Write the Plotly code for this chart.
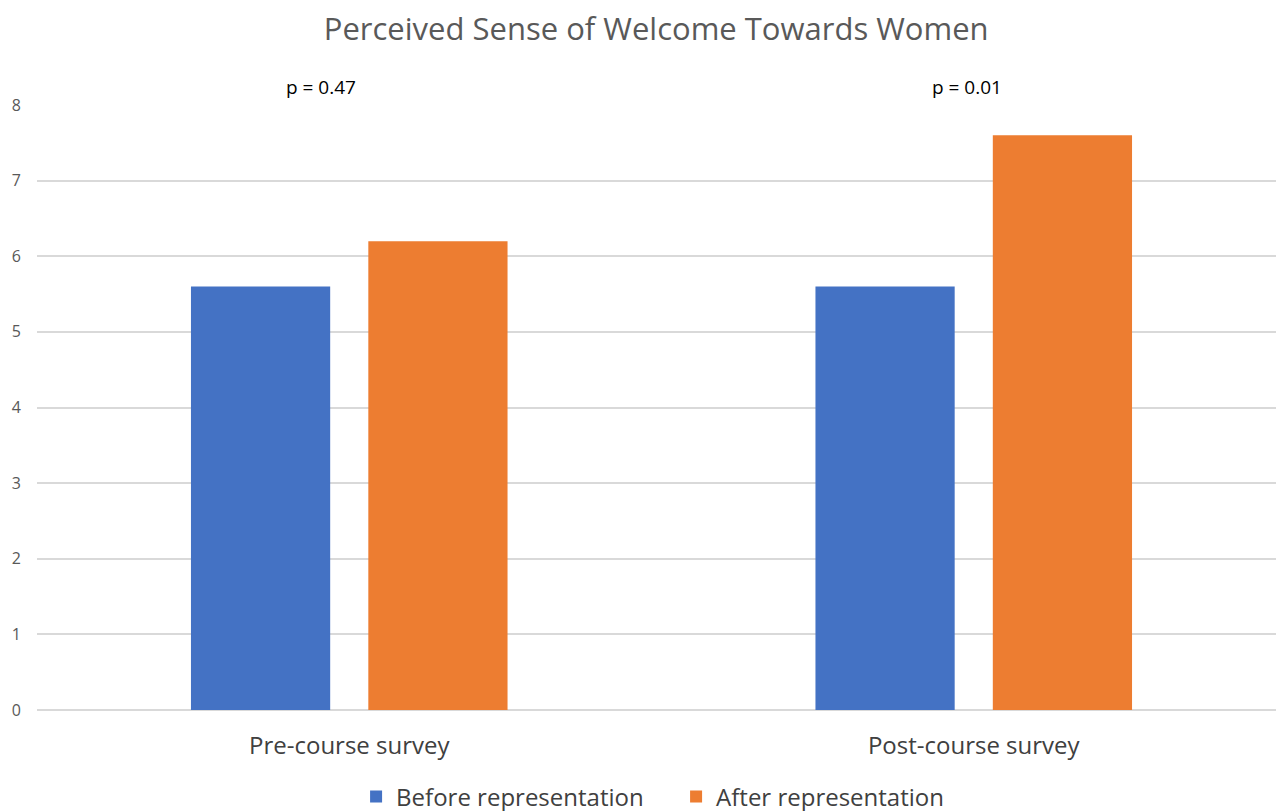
import plotly.graph_objects as go

categories = ["Pre-course survey", "Post-course survey"]
before_vals = [5.6, 5.6]
after_vals = [6.2, 7.6]
p_labels = ["p = 0.47", "p = 0.01"]
y_ticks = [0, 1, 2, 3, 4, 5, 6, 7, 8]

FONT = "Open Sans"
fig = go.Figure()
fig.add_trace(go.Bar(x=categories, y=before_vals, name="Before representation",
                     marker=dict(color="#4472C4", line=dict(width=0))))
fig.add_trace(go.Bar(x=categories, y=after_vals, name="After representation",
                     marker=dict(color="#ED7D31", line=dict(width=0))))

for i, lab in enumerate(p_labels):
    fig.add_annotation(x=categories[i], y=8.0, text=lab, showarrow=False,
                       xshift=[-28, -7][i], yshift=18, yanchor="middle",
                       font=dict(family=FONT, size=19, color="#000000"))

fig.update_layout(
    width=1276, height=811,
    margin=dict(l=29, r=0, t=97, b=109),
    paper_bgcolor="white", plot_bgcolor="white",
    barmode="group", bargap=0.432, bargroupgap=0.215,
    title=dict(text="Perceived Sense of Welcome Towards Women", x=0.508, xanchor="center",
               yref="container", y=0.974, yanchor="middle",
               font=dict(family=FONT, size=31, color="#595959")),
    font=dict(family=FONT, color="#595959"),
    legend=dict(orientation="h", x=0.5125, xanchor="center",
                yref="container", y=0.0271, yanchor="middle",
                entrywidth=275, entrywidthmode="pixels",
                font=dict(family=FONT, size=24, color="#404040"), itemwidth=30,
                traceorder="normal"),
    xaxis=dict(showgrid=False, showline=False, ticks="", range=[-0.5, 1.4968],
               tickfont=dict(family=FONT, size=24, color="#404040"),
               ticklabelstandoff=19),
    yaxis=dict(range=[0, 8], tickvals=y_ticks, showgrid=True, gridcolor="#D9D9D9",
               gridwidth=1.5, zeroline=True, zerolinecolor="#D9D9D9", zerolinewidth=1.5,
               showline=False, ticks="",
               tickfont=dict(family=FONT, size=16, color="#595959"),
               ticklabelstandoff=15),
)

fig.write_html("out.html")
